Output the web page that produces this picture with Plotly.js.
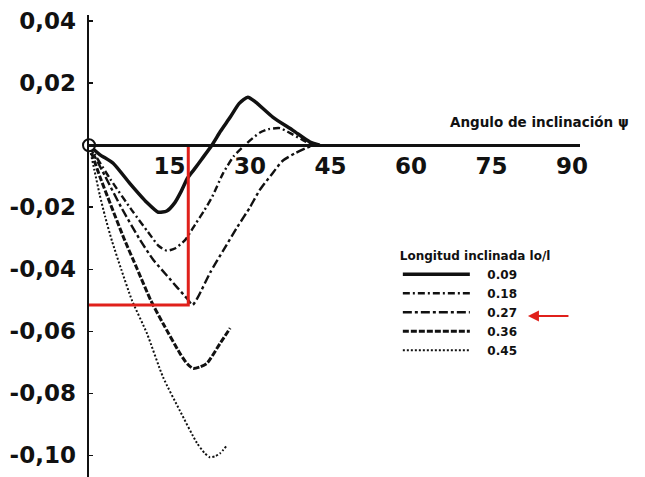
<!DOCTYPE html>
<html>
<head>
<meta charset="utf-8">
<script src="https://cdn.plot.ly/plotly-3.0.1.min.js"></script>
<style>html,body{margin:0;padding:0;background:#fff;}</style>
</head>
<body>
<div id="chart" style="width:645px;height:477px;"></div>
<script>
// ---- data ----
const seriesNames = ["0.09", "0.18", "0.27", "0.36", "0.45"];

const angle009 = [0, 2, 4.5, 7.6, 10.8, 12.9, 14.5, 16, 17.2, 18.4, 19.6, 21, 22.9, 24.5, 26.3, 28, 29.6, 31, 34.3, 38, 41.2, 43];
const value009 = [0, -0.003, -0.0058, -0.0123, -0.0185, -0.0216, -0.0212, -0.0185, -0.0148, -0.0105, -0.0078, -0.0045, 0, 0.0045, 0.009, 0.0135, 0.0155, 0.014, 0.009, 0.0048, 0.001, 0];

const angle018 = [0, 4, 8, 11, 13, 14.5, 16, 17.9, 19.8, 21.5, 23, 25, 27, 29.4, 31.8, 33.5, 35.6, 37.4, 39.5, 41.5];
const value018 = [0, -0.011, -0.021, -0.028, -0.0325, -0.034, -0.0333, -0.0306, -0.0255, -0.021, -0.0165, -0.009, -0.0035, 0.0006, 0.004, 0.0052, 0.0055, 0.004, 0.002, 0];

const angle027 = [0, 3, 6, 9.5, 12, 14.5, 16.5, 18.3, 19.3, 20.3, 22.6, 25, 27.6, 30, 31.8, 34, 36.1, 38.5, 40.6, 42];
const value027 = [0, -0.01, -0.02, -0.0305, -0.037, -0.042, -0.046, -0.0495, -0.0515, -0.049, -0.041, -0.034, -0.0265, -0.02, -0.0145, -0.0095, -0.005, -0.0025, -0.0008, 0];

const angle036 = [0, 2, 4, 6.5, 9, 11.5, 13.8, 16.9, 18.3, 19.4, 20.7, 22, 24.4, 26.3];
const value036 = [0, -0.01, -0.019, -0.03, -0.04, -0.05, -0.0575, -0.067, -0.0705, -0.072, -0.0715, -0.0703, -0.064, -0.059];

const angle045 = [0, 1, 2, 3, 4.3, 6, 8, 10.8, 13.8, 16.9, 20.1, 21.5, 22.5, 23.5, 24.4, 25.7];
const value045 = [0, -0.008, -0.016, -0.023, -0.031, -0.04, -0.05, -0.0607, -0.0748, -0.0855, -0.096, -0.0992, -0.1006, -0.1003, -0.0994, -0.0968];

// red highlight drawn on the reference (angle, value)
const highlightAngle = 18.5;
const highlightValue = -0.0515;

const originAngle = [0];
const originValue = [0];

const xTickVals = [15, 30, 45, 60, 75, 90];
const xTickText = ["15", "30", "45", "60", "75", "90"];
const yTickVals = [0.04, 0.02, -0.02, -0.04, -0.06, -0.08, -0.10];
const yTickText = ["0,04", "0,02", "-0,02", "-0,04", "-0,06", "-0,08", "-0,10"];

const xTitle = "Angulo de inclinación ψ";
const legendTitle = "Longitud inclinada lo/l";

// ---- build traces ----
const angles = [angle009, angle018, angle027, angle036, angle045];
const values = [value009, value018, value027, value036, value045];
const dashes = ["solid", "7px,3px,2px,3px", "9px,3px,3px,3px", "6px,2px", "2px,2px"];
const widths = [3.5, 2.4, 2.4, 3, 2];

const traces = seriesNames.map((n, i) => ({
  type: "scatter", mode: "lines", name: "\u00a0\u00a0\u00a0" + n,
  x: angles[i], y: values[i],
  line: {color: "#111", width: widths[i], dash: dashes[i], shape: "spline", smoothing: 0.6},
  hoverinfo: "skip"
}));

traces.push({
  type: "scatter", mode: "lines", showlegend: false,
  x: [0, highlightAngle, highlightAngle],
  y: [highlightValue, highlightValue, 0],
  line: {color: "#e0201b", width: 3},
  hoverinfo: "skip"
});

traces.push({
  type: "scatter", mode: "markers", showlegend: false,
  x: originAngle, y: originValue, cliponaxis: false,
  marker: {size: 12, color: "#fff", line: {color: "#111", width: 2}},
  hoverinfo: "skip"
});

const yRange = [-0.107, 0.042];
const xAxisPos = (0 - yRange[0]) / (yRange[1] - yRange[0]);
const tickFont = {family: "DejaVu Sans", size: 23, color: "#111", weight: "bold"};

const layout = {
  width: 645, height: 477,
  margin: {l: 89, r: 65, t: 15, b: 0, pad: 0},
  paper_bgcolor: "#fff", plot_bgcolor: "#fff",
  separators: ",.",
  showlegend: true,
  xaxis: {
    range: [0, 91.5], anchor: "free", position: xAxisPos,
    showline: true, linecolor: "#111", linewidth: 2.5,
    showgrid: false, zeroline: false,
    tickvals: xTickVals, ticktext: xTickText, ticks: "",
    ticklabelstandoff: 0,
    tickfont: tickFont
  },
  yaxis: {
    range: yRange,
    showline: true, linecolor: "#111", linewidth: 2.5,
    showgrid: false, zeroline: false,
    tickvals: yTickVals, ticktext: yTickText,
    ticks: "inside", ticklen: 4, tickwidth: 1.5, tickcolor: "#111",
    ticklabelstandoff: 6,
    tickfont: tickFont
  },
  legend: {
    x: 0.629, xanchor: "left", y: 0.504, yanchor: "top",
    bgcolor: "rgba(0,0,0,0)", borderwidth: 0,
    itemwidth: 67,
    font: {family: "DejaVu Sans", size: 12, color: "#111", weight: "bold"},
    title: {text: "<b>" + legendTitle + "</b>", font: {family: "DejaVu Sans", size: 12, color: "#111"}}
  },
  annotations: [
    {xref: "paper", yref: "paper", x: 0.918, y: 0.768, xanchor: "center", yanchor: "middle", showarrow: false,
     text: "<b>" + xTitle + "</b>", font: {family: "DejaVu Sans", size: 13.5, color: "#111"}},
    {xref: "paper", yref: "paper", x: 0.894, y: 0.3485, ax: 42, ay: 0,
     showarrow: true, arrowhead: 2, arrowsize: 1, arrowwidth: 2.2, arrowcolor: "#e0201b", text: ""}
  ]
};

Plotly.newPlot("chart", traces, layout, {displayModeBar: false, staticPlot: true});
</script>
</body>
</html>
